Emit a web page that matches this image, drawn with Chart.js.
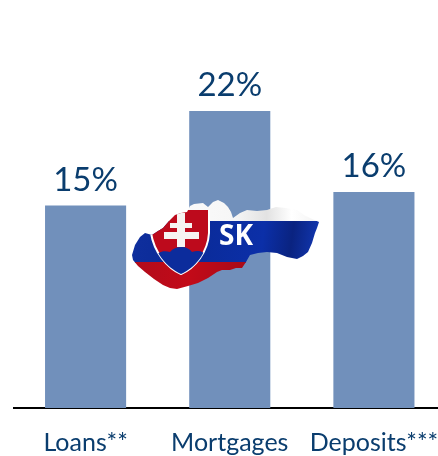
<!DOCTYPE html>
<html lang="en">

<head>
    <meta charset="UTF-8">
    <title>Slovakia market shares</title>
    <script src="https://cdn.jsdelivr.net/npm/chart.js"></script>
    <style>
        html, body { margin: 0; padding: 0; background: #ffffff; overflow: hidden; }
        #wrap { width: 438px; height: 456px; overflow: hidden; }
    </style>
</head>

<body>
    <div id="wrap"><canvas id="shareChart" width="446" height="456"></canvas></div>

    <script>
        const categories = ['Loans**', 'Mortgages', 'Deposits***'];
        const shareValues = [15, 22, 16];
        const valueSuffix = '%';
        const barColor = '#7190bb';
        const textColor = '#0a3d6e';

        // Map outline of the flag badge
        const outline = [[132,255],[135,245],[140,237],[145,233],[152,235],[158,231],[163,228],[169,221],[175,215],
            [181,213],[187,212],[190,206],[194,204],[203,203],[208,207],[213,202],[218,200],[224,203],[228,207],
            [231,212],[233,218],[240,213],[247,210],[257,211],[267,210],[276,207],[286,208],[297,210],[304,215],
            [310,218],[319,222],[317,228],[315,233],[312,243],[308,252],[303,256],[297,259],[287,257],[277,253],
            [267,252],[258,253],[250,255],[246,262],[242,268],[236,268],[230,270],[222,270],[217,272],[208,278],
            [198,283],[188,286],[177,289],[170,288],[163,285],[154,279],[145,272],[138,266],[133,260]];

        function tracePoints(ctx, pts) {
            ctx.beginPath();
            pts.forEach((p, i) => i ? ctx.lineTo(p[0], p[1]) : ctx.moveTo(p[0], p[1]));
            ctx.closePath();
        }

        // Value labels above the bars
        const valueLabels = {
            id: 'valueLabels',
            afterDatasetsDraw(chart) {
                const ctx = chart.ctx;
                ctx.save();
                ctx.font = '33px Lato';
                ctx.fillStyle = textColor;
                ctx.textAlign = 'center';
                ctx.textBaseline = 'alphabetic';
                chart.getDatasetMeta(0).data.forEach((bar, i) => {
                    ctx.fillText(shareValues[i] + valueSuffix, bar.x, bar.y - 15);
                });
                ctx.restore();
            }
        };

        // Slovak flag badge on top of the chart
        const flagBadge = {
            id: 'flagBadge',
            afterDraw(chart) {
                const ctx = chart.ctx;
                ctx.save();
                tracePoints(ctx, outline);
                ctx.clip();

                // white stripe with soft folds
                const white = ctx.createLinearGradient(130, 200, 320, 200);
                white.addColorStop(0, '#ffffff');
                white.addColorStop(0.55, '#f6f6f6');
                white.addColorStop(0.72, '#e2e2e2');
                white.addColorStop(0.85, '#ffffff');
                white.addColorStop(1, '#f2f2f2');
                ctx.fillStyle = white;
                ctx.fillRect(125, 195, 200, 30);

                // blue stripe
                const blue = ctx.createLinearGradient(130, 220, 320, 245);
                blue.addColorStop(0, '#0f2f9e');
                blue.addColorStop(0.3, '#0a2a96');
                blue.addColorStop(0.7, '#0b2fa8');
                blue.addColorStop(0.85, '#0a2380');
                blue.addColorStop(1, '#1238b4');
                ctx.fillStyle = blue;
                ctx.fillRect(125, 221, 200, 42);

                // red stripe
                const red = ctx.createLinearGradient(130, 262, 250, 285);
                red.addColorStop(0, '#b00c1c');
                red.addColorStop(0.5, '#c20a18');
                red.addColorStop(1, '#a50a18');
                ctx.fillStyle = red;
                ctx.fillRect(125, 262, 200, 30);

                // shield, white edge only along the sides
                const shield = new Path2D('M151 210 L209 210 L209 233 C208 252 195 268 181 274 C167 268 154 252 151 233 Z');
                ctx.fillStyle = '#bd0a1c';
                ctx.fill(shield);
                ctx.strokeStyle = '#ffffff';
                ctx.lineWidth = 2;
                ctx.stroke(new Path2D('M209 210 L209 233 C208 252 195 268 181 274 C167 268 154 252 151 233 L151 226'));

                // hills at the foot of the shield
                ctx.save();
                ctx.clip(shield);
                ctx.fillStyle = '#0c2c9c';
                ctx.fill(new Path2D('M155 258 C157 252 163 250 170 252 C173 248 178 247 182 247 C186 247 190 249 192 252 C198 250 204 251 206 256 L205 280 L155 280 Z'));
                ctx.restore();

                // double cross
                ctx.fillStyle = '#f6f4f2';
                ctx.fillRect(177, 213, 8, 34);
                ctx.fillRect(170, 223, 22, 5);
                ctx.fillRect(164, 232, 35, 7);

                // country code
                ctx.fillStyle = '#ffffff';
                ctx.font = 'bold 28px "Open Sans"';
                ctx.textAlign = 'left';
                ctx.textBaseline = 'alphabetic';
                ctx.fillText('SK', 219, 245);
                ctx.restore();
            }
        };

        new Chart(document.getElementById('shareChart'), {
            type: 'bar',
            data: {
                labels: categories,
                datasets: [{
                    data: shareValues,
                    backgroundColor: barColor,
                    categoryPercentage: 1,
                    barPercentage: 0.5625
                }]
            },
            options: {
                responsive: false,
                animation: false,
                layout: { padding: { left: 13.5, right: 0, top: 3, bottom: 0 } },
                plugins: { legend: { display: false }, tooltip: { enabled: false } },
                scales: {
                    y: { display: false, min: 0, max: 30 },
                    x: {
                        // long last label must not shrink the plot area
                        afterFit(scale) {
                            scale.height = 48;
                            scale.paddingLeft = 0;
                            scale.paddingRight = 0;
                        },
                        grid: { display: false, drawTicks: false },
                        border: { display: true, color: '#000000', width: 2 },
                        ticks: {
                            color: textColor,
                            font: { family: 'Lato', size: 25 },
                            padding: 20,
                            maxRotation: 0,
                            autoSkip: false
                        }
                    }
                }
            },
            plugins: [valueLabels, flagBadge]
        });
    </script>
</body>

</html>
